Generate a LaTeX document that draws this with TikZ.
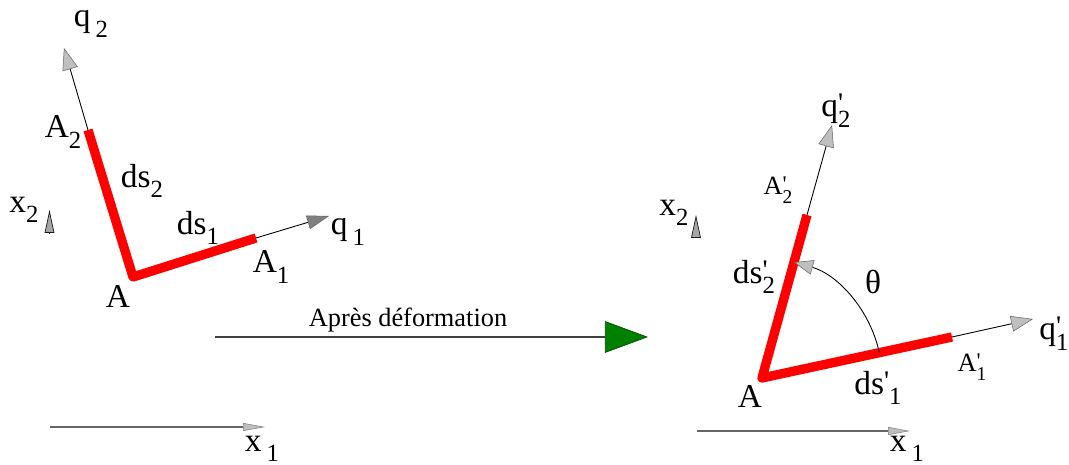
\documentclass[tikz,border=0pt]{standalone}
\usepackage{fontspec}
\setmainfont{Liberation Serif}
\usepackage{xcolor}
\usepackage{tikz}
\usetikzlibrary{arrows.meta}

% lowered index and primed index
\newcommand{\low}[1]{\raisebox{-0.32em}{\scalebox{0.74}{#1}}}
\newcommand{\tick}{\raisebox{0.12em}{\scalebox{0.85}{\textquotesingle}}}
\newcommand{\plow}[1]{\rlap{\tick}\low{#1}}

\begin{document}
\begin{tikzpicture}[
    x=0.02cm, y=-0.02cm,
    fiber/.style={draw=red, line width=5.3pt, line join=round},
    axis/.style={draw=black, line width=0.5pt,
        -{Triangle[length=12.5pt, width=9pt, color=black!60, fill=black!25, line width=0.3pt]}},
    axisdark/.style={axis,
        -{Triangle[length=12.5pt, width=8pt, color=black!60, fill=black!50, line width=0.3pt]}},
    ref/.style={draw=black!60, line width=0.7pt,
        -{Triangle[length=12.5pt, width=4.5pt, color=black!50, fill=black!25, line width=0.3pt]}},
    stub/.style={draw=black!90, line width=0.4pt,
        -{Triangle[length=13pt, width=5.5pt, color=black!90, fill=black!35, line width=0.4pt]}},
    turn/.style={draw=black, line width=0.5pt,
        -{Triangle[length=11pt, width=8.5pt, color=black!60, fill=black!25, line width=0.3pt]}},
    flow/.style={draw=black!75, line width=0.7pt,
        -{Triangle[length=24.5pt, width=18pt, color=green!30!black, fill=green!50!black, line width=0.4pt]}},
    lbl/.style={inner sep=0pt, font=\fontsize{19}{21}\selectfont},
    small/.style={inner sep=0pt, font=\fontsize{15}{17}\selectfont},
    caption/.style={inner sep=0pt, font=\fontsize{15}{17}\selectfont}
]
\useasboundingbox (0,0) rectangle (1069,465);

% before deformation
\coordinate (A) at (133,277);
\coordinate (A1) at (256,238);
\coordinate (A2) at (88,130);
\coordinate (q1) at (329,216);
\coordinate (q2) at (64,48);
\coordinate (x2a) at (49.5,233);
\coordinate (x2b) at (49.5,210);
\coordinate (x1a) at (50,427);
\coordinate (x1b) at (265,427);
\draw[axisdark] (A1) -- (q1);
\draw[axis] (A2) -- (q2);
\draw[fiber] (A2) -- (A) -- (A1);
\draw[stub] (x2a) -- (x2b);
\draw[ref] (x1a) -- (x1b);

\node[lbl] (lq2) at (91,24) {q\hspace{0.15em}\low{2}};
\node[lbl] (lA2) at (63,132) {A\low{2}};
\node[lbl] (lds2) at (142,181) {ds\low{2}};
\node[lbl] (lx2) at (24,210) {x\low{2}};
\node[lbl] (lds1) at (198,228) {ds\low{1}};
\node[lbl] (lq1) at (348,232) {q\hspace{0.15em}\low{1}};
\node[lbl] (lA1) at (271,267) {A\low{1}};
\node[lbl] (lA) at (118,296) {A};
\node[lbl] (lx1) at (262,449) {x\hspace{0.15em}\low{1}};

% transformation
\coordinate (t0) at (215,337);
\coordinate (t1) at (648,337);
\draw[flow] (t0) -- (t1);
\node[caption] (ltrans) at (408,320) {Après déformation};

% after deformation
\coordinate (B) at (762,378);
\coordinate (B1) at (952,337);
\coordinate (B2) at (807,215);
\coordinate (p1) at (1033,319);
\coordinate (p2) at (832,125);
\coordinate (th1) at (879.3,352.6);
\coordinate (y2a) at (696,236);
\coordinate (y2b) at (696,215);
\coordinate (y1a) at (697,431);
\coordinate (y1b) at (910,431);
\draw[axis] (B1) -- (p1);
\draw[axis] (B2) -- (p2);
\draw[fiber] (B2) -- (B) -- (B1);
\draw[turn] (th1) arc[start angle=12.2, end angle=74.6, radius=2.4cm];
\draw[stub] (y2a) -- (y2b);
\draw[ref] (y1a) -- (y1b);

\node[lbl] (rq2) at (836,111) {q\plow{2}};
\node[small] (rA2) at (778,190) {A\plow{2}};
\node[lbl] (rx2) at (674,213) {x\low{2}};
\node[lbl] (rds2) at (754,277) {ds\plow{2}};
\node[lbl] (rth) at (873,282) {θ};
\node[lbl] (rq1) at (1054,334) {q\plow{1}};
\node[small] (rA1) at (972,367) {A\plow{1}};
\node[lbl] (rds1) at (878,388) {ds\tick\low{1}};
\node[lbl] (rA) at (750,396) {A};
\node[lbl] (rx1) at (907,449) {x\hspace{0.15em}\low{1}};
\end{tikzpicture}
\end{document}
